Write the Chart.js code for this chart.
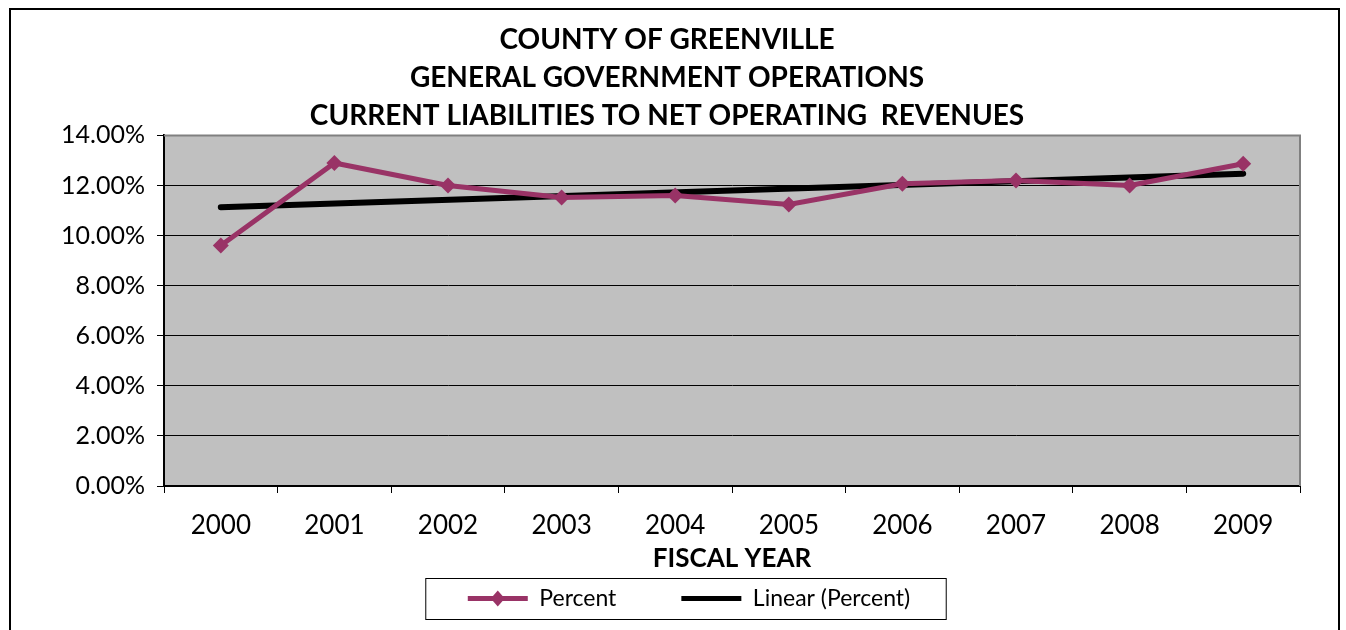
<!DOCTYPE html>
<html>
<head>
<meta charset="utf-8">
<script src="https://cdn.jsdelivr.net/npm/chart.js@4"></script>
<style>
  html, body { margin: 0; padding: 0; background: #fff; overflow: hidden; }
  #wrap { position: relative; width: 1346px; height: 630px; }
  #frame { position: absolute; left: 9px; top: 8px; width: 1327px; height: 700px; border: 2px solid #000; }
  #chart { position: absolute; left: 0; top: 0; }
</style>
</head>
<body>
<div id="wrap">
  <div id="frame"></div>
  <canvas id="chart" width="1346" height="630"></canvas>
</div>
<script>
const years = ['2000', '2001', '2002', '2003', '2004', '2005', '2006', '2007', '2008', '2009'];
const percent = [9.6, 12.9, 12.0, 11.52, 11.6, 11.24, 12.07, 12.2, 12.0, 12.87];
// trend line end points (only first and last year)
const linear = [11.13, null, null, null, null, null, null, null, null, 12.47];
const titleLines = ['COUNTY OF GREENVILLE', 'GENERAL GOVERNMENT OPERATIONS', 'CURRENT LIABILITIES TO NET OPERATING  REVENUES'];

const FONT = 'Lato, "DejaVu Sans", sans-serif';
const plum = '#993366';

// gray plot background, gray top/right border, legend frame
const plotBg = {
  id: 'plotBg',
  afterLayout(c) {
    // legend sits a bit right of the title centre in the original
    if (c.legend) {
      c.legend.left += 22; c.legend.right += 22;
      c.legend.top -= 3; c.legend.bottom -= 3;
    }
  },
  beforeDraw(c) {
    const a = c.chartArea, ctx = c.ctx;
    ctx.save();
    ctx.fillStyle = '#c0c0c0';
    ctx.fillRect(a.left, a.top, a.right - a.left, a.bottom - a.top);
    ctx.restore();
  },
  afterDraw(c) {
    const a = c.chartArea, ctx = c.ctx;
    ctx.save();
    ctx.strokeStyle = '#808080';
    ctx.lineWidth = 2;
    ctx.beginPath();
    ctx.moveTo(a.left, a.top);
    ctx.lineTo(a.right, a.top);
    ctx.lineTo(a.right, a.bottom);
    ctx.stroke();
    ctx.restore();

    const lg = c.legend;
    if (!lg || !lg.legendHitBoxes.length) return;
    const hb = lg.legendHitBoxes;
    const first = hb[0], last = hb[hb.length - 1];
    ctx.save();
    ctx.strokeStyle = '#000';
    ctx.lineWidth = 1;
    const midY = first.top + first.height / 2;
    ctx.strokeRect(first.left - 42, midY - 20, (last.left + last.width) - first.left + 78, 41);
    const bw = lg.options.labels.boxWidth;
    const cx = first.left + bw / 2, cy = midY;
    ctx.fillStyle = plum;
    ctx.beginPath();
    ctx.moveTo(cx, cy - 8); ctx.lineTo(cx + 7, cy); ctx.lineTo(cx, cy + 8); ctx.lineTo(cx - 7, cy);
    ctx.closePath();
    ctx.fill();
    ctx.restore();
  }
};

new Chart(document.getElementById('chart'), {
  type: 'line',
  data: {
    labels: years,
    datasets: [
      {
        label: 'Percent',
        data: percent,
        borderColor: plum,
        backgroundColor: plum,
        borderWidth: 5,
        pointStyle: 'rectRot',
        pointRadius: 8,
        pointBorderWidth: 0,
        tension: 0
      },
      {
        label: 'Linear (Percent)',
        data: linear,
        borderColor: '#000',
        backgroundColor: '#000',
        borderWidth: 6,
        borderCapStyle: 'round',
        pointRadius: 0,
        spanGaps: true
      }
    ]
  },
  options: {
    responsive: false,
    animation: false,
    layout: { padding: { left: 34, right: 46, top: 0, bottom: 7 } },
    plugins: {
      title: {
        display: true,
        text: titleLines,
        color: '#000',
        font: { family: FONT, size: 28, weight: 'bold', lineHeight: 1.35 },
        padding: { top: 21, bottom: 1 }
      },
      legend: {
        position: 'bottom',
        labels: {
          color: '#000',
          font: { family: FONT, size: 23 },
          boxWidth: 60,
          boxHeight: 5,
          padding: 12,
          generateLabels(c) {
            return c.data.datasets.map((d, i) => ({
              // gap after the first entry as in the original legend
              text: i === 0 ? d.label + '         ' : d.label,
              fillStyle: d.borderColor,
              strokeStyle: d.borderColor,
              lineWidth: 0,
              datasetIndex: i
            }));
          }
        }
      },
      tooltip: { enabled: false }
    },
    scales: {
      x: {
        offset: true,
        afterFit(s) { s.height = 92; },
        grid: { offset: true, drawOnChartArea: false, tickLength: 7, color: '#000', tickColor: '#000' },
        border: { color: '#000', width: 2 },
        ticks: { color: '#000', font: { family: FONT, size: 26 }, padding: 17, maxRotation: 0 },
        title: {
          display: true,
          text: 'FISCAL YEAR',
          color: '#000',
          font: { family: FONT, size: 26, weight: 'bold' },
          padding: { top: 0, bottom: 4 }
        }
      },
      y: {
        min: 0,
        max: 14,
        afterFit(s) { s.width = 130; },
        grid: { color: '#000', lineWidth: 1, tickLength: 7, tickColor: '#000' },
        border: { color: '#000', width: 2 },
        ticks: {
          stepSize: 2,
          color: '#000',
          font: { family: FONT, size: 25 },
          padding: 12,
          callback: v => v.toFixed(2) + '%'
        }
      }
    }
  },
  plugins: [plotBg]
});
</script>
</body>
</html>
